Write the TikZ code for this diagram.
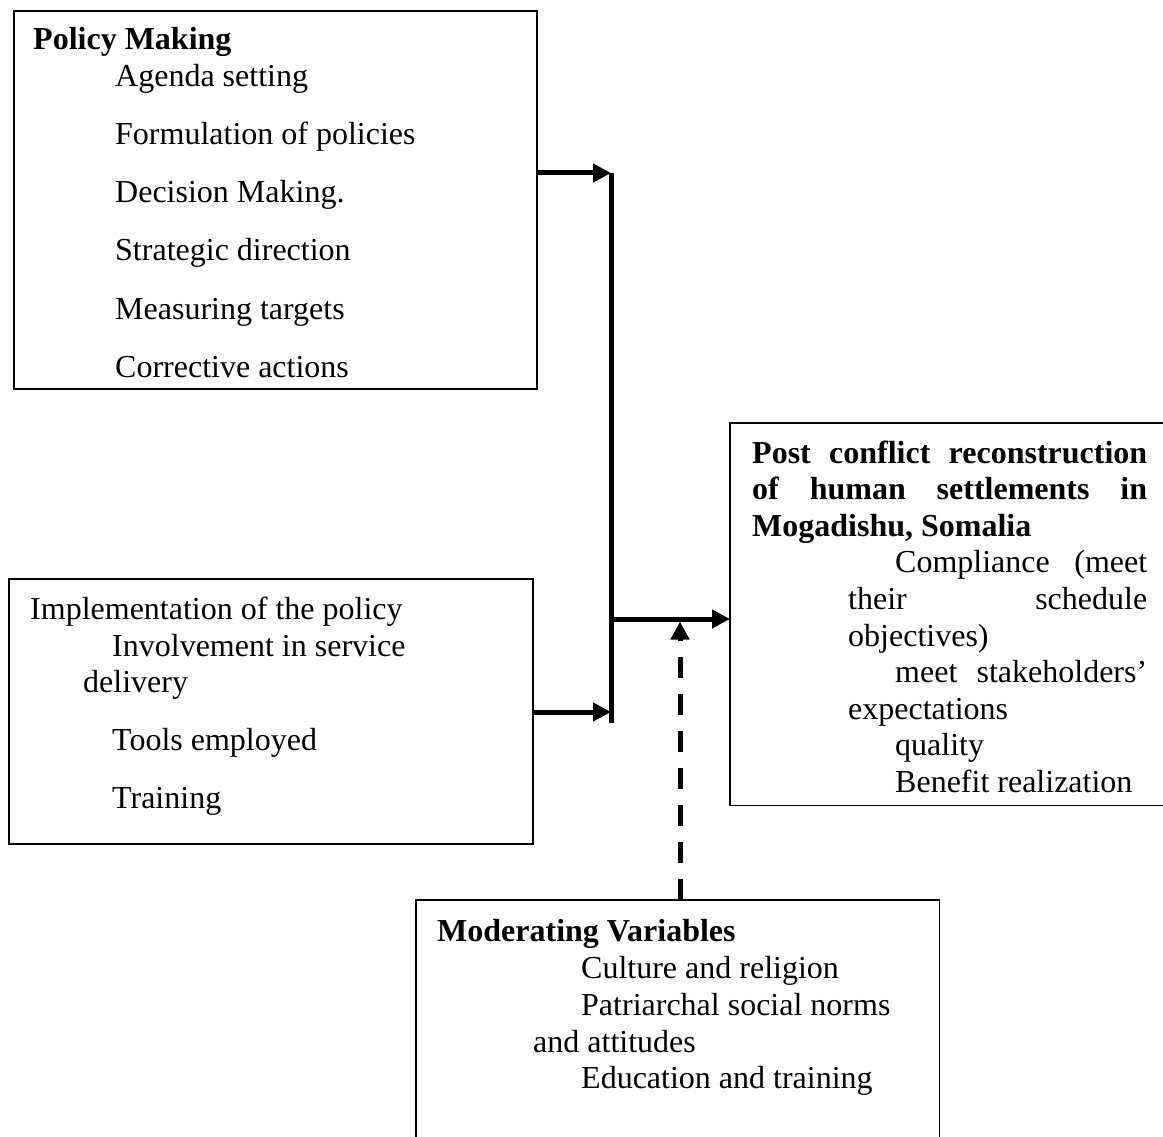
\documentclass[tikz,border=0pt]{standalone}
\usepackage{fontspec}
\setmainfont{Liberation Serif}
\usetikzlibrary{arrows.meta}
\tikzset{
  pbox/.style={draw, line width=1.6pt, inner sep=0pt, anchor=north west},
  obox/.style={inner sep=0pt, anchor=north west},
  ptxt/.style={anchor=base west, inner sep=0pt, font=\fontsize{32}{37}\selectfont},
  pbold/.style={anchor=base west, inner sep=0pt, font=\fontsize{32}{37}\selectfont\bfseries},
  pedge/.style={line width=1.6pt},
  pbus/.style={line width=5pt},
  pflow/.style={line width=5pt, -{Triangle[length=18pt, width=18pt]}},
  pmod/.style={line width=5pt, dash pattern=on 21pt off 16pt, -{Triangle[length=18pt, width=18pt]}}
}

\begin{document}
\begin{tikzpicture}[x=1pt, y=-1pt]
  \useasboundingbox (0,0) rectangle (1163,1137);
  % boxes
  \node[pbox, minimum width=523pt, minimum height=378pt] (PM) at (13,10) {};
  \node[pbox, minimum width=524pt, minimum height=265pt] (IP) at (8,578) {};
  \node[obox, minimum width=445pt, minimum height=382pt] (PC) at (730,423) {};
  \node[obox, minimum width=523pt, minimum height=250pt] (MV) at (416,900) {};
  \draw[pedge] (PC.north east) -- (PC.north west) -- (PC.south west) -- (PC.south east);
  \draw[pedge] (MV.south west) -- (MV.north west) -- (MV.north east) -- (MV.south east);
  % policy making
  \node[pbold] (PMt) at (33,50) {Policy Making};
  \foreach \t [count=\i from 0] in {Agenda setting, Formulation of policies, Decision Making.,
      Strategic direction, Measuring targets, Corrective actions}
    \node[ptxt] (PM\i) at (115,87+58*\i) {\t};
  % implementation
  \node[ptxt] (IPt) at (30,619) {Implementation of the policy};
  \node[ptxt] (IP1) at (112,656) {Involvement in service};
  \node[ptxt] (IP2) at (83,692) {delivery};
  \node[ptxt] (IP3) at (112,750) {Tools employed};
  \node[ptxt] (IP4) at (112,808) {Training};
  % post conflict
  \node[pbold] (PC1) at (752,463) {\makebox[395pt][s]{Post conflict reconstruction}};
  \node[pbold] (PC2) at (752,499.6) {\makebox[395pt][s]{of human settlements in}};
  \node[pbold] (PC3) at (752,536.2) {Mogadishu, Somalia};
  \node[ptxt] (PC4) at (895,572.8) {\makebox[252pt][s]{Compliance (meet}};
  \node[ptxt] (PC5) at (848,609.4) {\makebox[299pt][s]{their schedule}};
  \node[ptxt] (PC6) at (848,646) {objectives)};
  \node[ptxt] (PC7) at (895,682.6) {\makebox[252pt][s]{meet stakeholders’}};
  \node[ptxt] (PC8) at (848,719.2) {expectations};
  \node[ptxt] (PC9) at (895,755.8) {quality};
  \node[ptxt] (PC10) at (895,792.4) {Benefit realization};
  % moderating
  \node[pbold] (MVt) at (437,941) {Moderating Variables};
  \node[ptxt] (MV1) at (581,978) {Culture and religion};
  \node[ptxt] (MV2) at (581,1015) {Patriarchal social norms};
  \node[ptxt] (MV3) at (533,1052) {and attitudes};
  \node[ptxt] (MV4) at (581,1088) {Education and training};
  % connectors
  \coordinate (J1) at (611,173);
  \coordinate (J2) at (611,723);
  \coordinate (J3) at (611,619);
  \coordinate (J4) at (611,712);
  \coordinate (J5) at (680,621.5);
  \draw[pflow] (PM.east |- J1) -- (J1);
  \draw[pflow] (IP.east |- J4) -- (J4);
  \draw[pbus] (J1) -- (J2);
  \draw[pflow] (J3) -- (PC.west |- J3);
  \draw[pmod] (MV.north -| J5) -- (J5);
\end{tikzpicture}
\end{document}
